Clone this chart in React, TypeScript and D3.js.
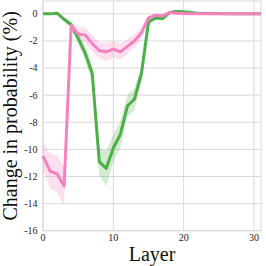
import React from 'react';
import * as d3 from 'd3';

// layer index 0..31
const layers = d3.range(0, 32);

const greenMean = [0, 0, 0.05, -0.4, -0.8, -1.8, -2.9, -4.4, -10.9, -11.4, -9.9, -8.9, -6.8, -6.3, -4.4, -0.6,
  -0.3, -0.35, 0.1, 0.18, 0.15, 0.1, 0.05, 0.03, 0.02, 0.02, 0.01, 0.01, 0.01, 0.01, 0.01, 0.01];
const greenErr = [0.05, 0.05, 0.1, 0.15, 0.2, 0.4, 0.5, 0.7, 1.0, 1.3, 1.0, 1.0, 0.8, 0.8, 0.6, 0.2,
  0.15, 0.15, 0.1, 0.1, 0.05, 0.05, 0.05, 0.03, 0.03, 0.03, 0.03, 0.03, 0.03, 0.03, 0.03, 0.03];

const pinkMean = [-10.5, -11.6, -11.8, -12.7, -0.85, -1.5, -1.55, -2.2, -2.7, -2.8, -2.6, -2.8, -2.4, -2.0, -1.4, -0.3,
  -0.1, -0.15, 0.1, 0.05, 0.02, 0.01, 0, 0, 0, 0, 0, 0, 0, 0, 0, 0];
const pinkErr = [1.0, 1.3, 1.35, 1.5, 0.3, 0.5, 0.55, 0.6, 0.6, 0.65, 0.6, 0.6, 0.55, 0.5, 0.4, 0.15,
  0.1, 0.1, 0.05, 0.05, 0.03, 0.03, 0.03, 0.03, 0.03, 0.03, 0.03, 0.03, 0.03, 0.03, 0.03, 0.03];

const xTicks = [0, 10, 20, 30];
const yTicks = [0, -2, -4, -6, -8, -10, -12, -14, -16];

const series = [
  { name: 'green', color: '#4daf4a', mean: greenMean, err: greenErr },
  { name: 'pink', color: '#f781bf', mean: pinkMean, err: pinkErr },
];

const W = 266, H = 266;
const left = 43, right = 261, top = 1, bottom = 230.7;
const font = '"Liberation Serif", "Times New Roman", serif';
const gridColor = '#dadada';

export default function App() {
  const x = d3.scaleLinear().domain([0, 31]).range([left, right]);
  const y = d3.scaleLinear().domain([-16, 0.95]).range([bottom, top]);

  return (
    <svg width={W} height={H} style={{ position: 'absolute', left: 0, top: 0, background: '#fff' }}>
      {/* grid */}
      {yTicks.map(t => (
        <line key={'gy' + t} x1={left} x2={right} y1={y(t)} y2={y(t)} stroke={gridColor} strokeWidth={1} />
      ))}
      {xTicks.map(t => (
        <line key={'gx' + t} x1={x(t)} x2={x(t)} y1={top} y2={bottom} stroke={gridColor} strokeWidth={1} />
      ))}
      <rect x={left} y={top} width={right - left} height={bottom - top} fill="none" stroke={gridColor} strokeWidth={1} />

      {/* bands */}
      {series.map(s => {
        const area = d3.area<number>()
          .x(i => x(layers[i]))
          .y0(i => y(s.mean[i] - s.err[i]))
          .y1(i => y(s.mean[i] + s.err[i]));
        return <path key={'a' + s.name} d={area(d3.range(layers.length)) || ''} fill={s.color} fillOpacity={0.25} />;
      })}

      {/* lines */}
      {series.map(s => {
        const line = d3.line<number>()
          .x(i => x(layers[i]))
          .y(i => y(s.mean[i]));
        return <path key={'l' + s.name} d={line(d3.range(layers.length)) || ''} fill="none" stroke={s.color}
          strokeWidth={3} strokeLinejoin="round" />;
      })}

      {/* tick labels */}
      {yTicks.map(t => (
        <text key={'ty' + t} x={left - 5.5} y={y(t)} dy="0.34em" textAnchor="end" fontFamily={font} fontSize={10} fill="#222">
          {String(t)}
        </text>
      ))}
      {xTicks.map(t => (
        <text key={'tx' + t} x={x(t)} y={241.3} textAnchor="middle" fontFamily={font} fontSize={10} fill="#222">
          {t}
        </text>
      ))}

      {/* axis labels */}
      <text x={(left + right) / 2} y={261.3} textAnchor="middle" fontFamily={font} fontSize={20} fill="#111">Layer</text>
      <text transform={`translate(16.5, ${(top + bottom) / 2}) rotate(-90)`} textAnchor="middle" fontFamily={font}
        fontSize={20} fill="#111">Change in probability (%)</text>
    </svg>
  );
}
